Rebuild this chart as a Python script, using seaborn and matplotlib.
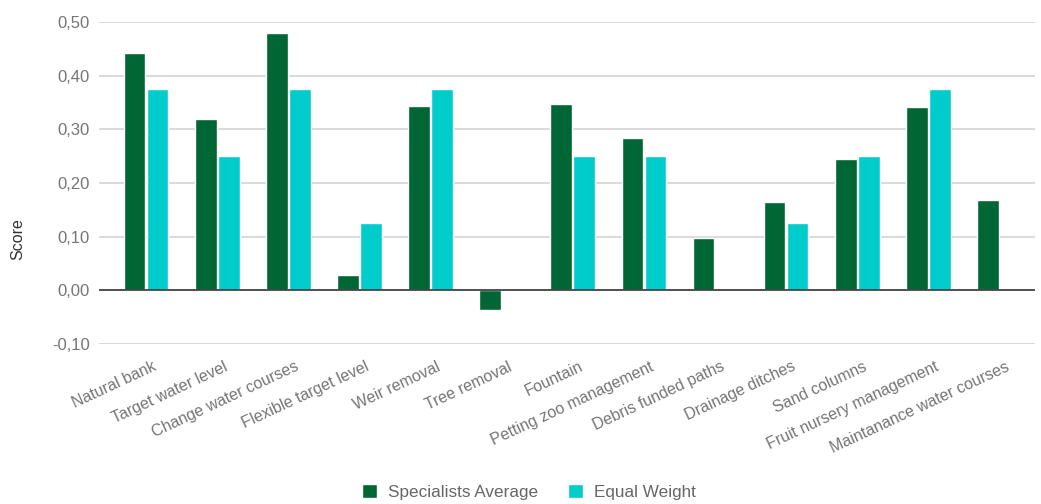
import numpy as np
import pandas as pd
import matplotlib
matplotlib.use("Agg")
import matplotlib.pyplot as plt
from matplotlib.ticker import FuncFormatter
from matplotlib.transforms import ScaledTranslation
import seaborn as sns

categories = [
    "Natural bank", "Target water level", "Change water courses",
    "Flexible target level", "Weir removal", "Tree removal", "Fountain",
    "Petting zoo management", "Debris funded paths", "Drainage ditches",
    "Sand columns", "Fruit nursery management", "Maintanance water courses",
]
specialists_average = [0.442, 0.320, 0.479, 0.029, 0.343, -0.037, 0.348,
                       0.284, 0.097, 0.164, 0.244, 0.341, 0.169]
equal_weight = [0.375, 0.25, 0.375, 0.125, 0.375, np.nan, 0.25,
                0.25, np.nan, 0.125, 0.25, 0.375, np.nan]
series_names = ["Specialists Average", "Equal Weight"]
y_ticks = [-0.10, 0.00, 0.10, 0.20, 0.30, 0.40, 0.50]

df = pd.DataFrame({
    "category": categories * 2,
    "series": [series_names[0]] * len(categories) + [series_names[1]] * len(categories),
    "score": specialists_average + equal_weight,
})

sns.set_theme(style="white")
plt.rcParams["font.family"] = ["Liberation Sans", "DejaVu Sans"]

W, H = 1041, 504
fig = plt.figure(figsize=(W / 100, H / 100), dpi=100)
# chart area in pixels: x 99..1035, y 22..344
ax = fig.add_axes([99 / W, 1 - 344 / H, 936 / W, 322 / H])

palette = {series_names[0]: "#006633", series_names[1]: "#00CCCC"}
sns.barplot(data=df, x="category", y="score", hue="series", palette=palette,
            order=categories, hue_order=series_names, width=0.647, gap=0.06,
            saturation=1, ax=ax, legend=True)

ax.set_ylim(-0.10, 0.50)
ax.set_yticks(y_ticks)
ax.yaxis.set_major_formatter(FuncFormatter(lambda v, _: f"{v:.2f}".replace(".", ",")))
ax.set_xlim(-0.662, len(categories) - 0.5)
ax.grid(axis="y", color="#d0d0d0", linewidth=1.1)
ax.set_axisbelow(True)
ax.axhline(0, color="#444444", linewidth=1.3, zorder=3)
for s in ax.spines.values():
    s.set_visible(False)

ax.tick_params(axis="y", length=0, pad=6.5, labelsize=12, labelcolor="#757575")
ax.tick_params(axis="x", length=0, pad=0, labelsize=11.5, labelcolor="#757575")
label_shift = ScaledTranslation(11 / 100, -26 / 100, fig.dpi_scale_trans)
for lab in ax.get_xticklabels():
    lab.set_rotation(25)
    lab.set_rotation_mode("anchor")
    lab.set_horizontalalignment("right")
    lab.set_verticalalignment("baseline")
    lab.set_transform(lab.get_transform() + label_shift)
ax.set_xlabel("")
ax.set_ylabel("")
fig.text(18 / W, 1 - 239 / H, "Score", rotation=90, ha="center", va="center",
         fontsize=11.5, color="#333333")

handles, labels = ax.get_legend_handles_labels()
ax.get_legend().remove()
fig.legend(handles, labels, loc="center", ncol=2, frameon=False,
           bbox_to_anchor=(529 / W, 1 - 492 / H), fontsize=12.3, labelcolor="#666666",
           handlelength=0.9, handleheight=0.9, columnspacing=1.7, handletextpad=0.65)

fig.savefig("out.png", dpi=100)
